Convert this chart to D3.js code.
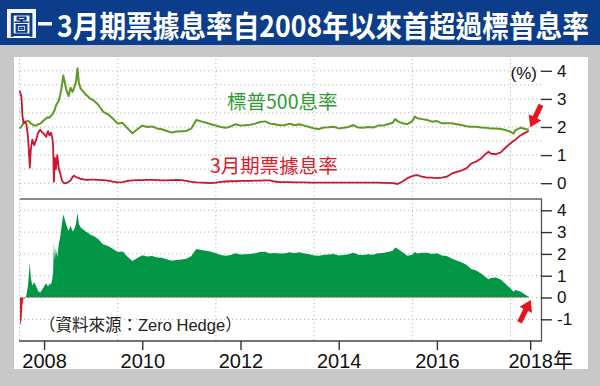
<!DOCTYPE html>
<html><head><meta charset="utf-8">
<script src="https://cdn.jsdelivr.net/npm/d3@7/dist/d3.min.js"></script>
<style>body{margin:0;background:#c8c8c8;overflow:hidden}</style>
</head><body>
<svg id="c" width="600" height="386"></svg>
<script>
// ---------- data (x in axis-years as drawn) ----------
const years = [
2007.50,2007.52,2007.54,2007.56,2007.58,2007.61,2007.64,2007.67,2007.69,2007.71,2007.73,2007.76,2007.80,2007.84,2007.88,2007.92,2007.96,
2008.00,2008.04,2008.08,2008.11,2008.14,2008.17,2008.185,2008.20,2008.22,2008.24,2008.27,2008.30,2008.33,2008.36,2008.39,2008.42,2008.45,2008.50,2008.54,2008.58,2008.61,2008.65,2008.68,2008.71,2008.75,2008.80,2008.85,2008.90,2008.95,
2009.0,2009.1,2009.2,2009.3,2009.4,2009.5,2009.6,2009.7,2009.8,2009.9,
2010.0,2010.1,2010.2,2010.3,2010.4,2010.5,2010.6,2010.7,2010.8,2010.9,
2011.0,2011.1,2011.2,2011.3,2011.4,2011.5,2011.6,2011.7,2011.8,2011.9,
2012.0,2012.1,2012.2,2012.3,2012.4,2012.5,2012.6,2012.7,2012.8,2012.9,
2013.0,2013.1,2013.2,2013.3,2013.4,2013.5,2013.6,2013.7,2013.8,2013.9,
2014.0,2014.1,2014.2,2014.3,2014.4,2014.5,2014.6,2014.7,2014.8,2014.9,
2015.0,2015.1,2015.15,2015.2,2015.3,2015.4,2015.5,2015.55,2015.6,2015.7,2015.8,2015.9,
2016.0,2016.1,2016.2,2016.3,2016.4,2016.5,2016.6,2016.7,2016.8,2016.9,
2017.0,2017.05,2017.1,2017.2,2017.3,2017.4,2017.5,2017.56,2017.6,2017.7,2017.8,2017.87];

// S&P 500 dividend yield (%)
const spYield = [
1.95,1.98,2.02,2.08,2.12,2.15,2.20,2.22,2.20,2.17,2.12,2.10,2.05,2.05,2.10,2.12,2.18,
2.25,2.30,2.35,2.33,2.40,2.45,2.50,2.55,2.62,2.75,2.85,2.95,3.15,3.43,3.83,3.60,3.35,3.10,3.40,3.25,3.38,3.60,4.09,3.55,3.35,3.26,3.15,3.08,3.00,
2.96,2.80,2.55,2.45,2.30,2.12,2.15,1.95,1.78,1.92,
2.05,2.00,2.02,1.95,1.92,1.86,1.80,1.84,1.85,1.86,
1.95,2.25,2.20,2.15,2.10,2.05,2.00,1.97,2.02,2.10,
2.05,2.06,2.08,2.12,2.18,2.20,2.12,2.10,2.06,2.06,
2.12,2.06,2.10,2.05,2.00,1.95,1.93,1.98,1.99,2.01,
1.95,1.97,2.00,2.07,1.98,1.97,2.00,1.98,2.05,2.05,
2.10,2.15,2.28,2.21,2.13,2.10,2.21,2.37,2.31,2.28,2.25,2.19,
2.21,2.13,2.13,2.13,2.10,2.07,2.03,2.01,2.01,1.98,
1.97,1.96,1.95,1.95,1.93,1.89,1.83,1.76,1.89,1.97,1.93,1.90];

// 3-month T-bill yield (%)
const billYield = [
3.30,3.20,3.05,2.40,2.15,2.20,2.10,1.70,1.20,0.55,1.20,1.55,1.35,1.55,1.80,1.90,1.82,
1.75,1.65,1.85,1.70,1.80,1.60,1.30,0.05,0.90,0.50,1.00,0.50,0.35,0.12,0.02,0.00,0.00,0.05,0.10,0.22,0.27,0.22,0.20,0.18,0.15,0.14,0.12,0.12,0.13,
0.13,0.12,0.11,0.09,0.06,0.03,0.04,0.08,0.10,0.11,
0.11,0.12,0.12,0.11,0.10,0.10,0.11,0.12,0.11,0.08,
0.05,0.03,0.02,0.01,0.00,0.02,0.05,0.06,0.07,0.07,
0.08,0.08,0.08,0.09,0.09,0.10,0.10,0.06,0.04,0.04,
0.04,0.03,0.03,0.03,0.02,0.02,0.02,0.02,0.02,0.02,
0.02,0.02,0.02,0.02,0.02,0.02,0.02,0.02,0.02,0.01,
0.01,0.00,-0.01,-0.03,0.06,0.18,0.25,0.28,0.29,0.23,0.20,0.20,
0.18,0.20,0.23,0.34,0.40,0.45,0.53,0.70,0.77,0.88,
1.05,1.12,1.05,1.03,1.10,1.27,1.42,1.50,1.55,1.70,1.80,1.86];

const xTickValues = [2008, 2010, 2012, 2014, 2016, 2017.9];
const xTickLabels = ["2008", "2010", "2012", "2014", "2016", "2018年"];
const gridYears = [2007.5, 2009.5, 2011.5, 2013.5, 2015.5, 2017.5];
const topTicks = [0, 1, 2, 3, 4];
const topGrid = [0, 0.5, 1, 1.5, 2, 2.5, 3, 3.5, 4];
const bottomTicks = [-1, 0, 1, 2, 3, 4];
const titleText = "3月期票據息率自2008年以來首超過標普息率";
const spLabel = "標普500息率";
const billLabel = "3月期票據息率";
const sourceText = "（資料來源：Zero Hedge）";

// ---------- drawing ----------
const CJK = "'Noto Sans CJK TC','Noto Sans CJK SC',sans-serif";
const LAT = "'Liberation Sans',Arial,'Noto Sans CJK TC',sans-serif";
const svg = d3.select("#c");
const rows = years.map((y, i) => ({ y, sp: spYield[i], bill: billYield[i], spread: spYield[i] - billYield[i] }));

// background / frame
svg.append("rect").attr("width", 600).attr("height", 386).attr("fill", "#c8c8c8");
svg.append("rect").attr("width", 600).attr("height", 45).attr("fill", "#0b3d8b");
svg.append("rect").attr("x", 14).attr("y", 57).attr("width", 574).attr("height", 312).attr("fill", "#fff");

// title
svg.append("rect").attr("x", 7).attr("y", 9).attr("width", 29).attr("height", 29).attr("fill", "#f4f6fa");
svg.append("text").attr("x", 21.5).attr("y", 33.5).attr("text-anchor", "middle")
  .attr("font-family", CJK).attr("font-weight", 700).attr("font-size", 25).attr("fill", "#0b3d8b").text("圖");
svg.append("rect").attr("x", 38).attr("y", 22).attr("width", 14).attr("height", 3.5).attr("fill", "#fff");
const titleG = svg.append("g");
const title = titleG.append("text").attr("x", 0).attr("y", 0).attr("font-family", CJK).attr("font-weight", 700)
  .attr("font-size", 30).attr("fill", "#fff").text(titleText);
const natW = title.node().getComputedTextLength();
titleG.attr("transform", `translate(57,36.5) scale(${532 / natW},1)`);

// scales
const x = d3.scaleLinear().domain([2007.51, 2018.12]).range([20, 541]);
const yTop = d3.scaleLinear().domain([0, 4]).range([183.2, 70.8]);
const yBot = d3.scaleLinear().domain([-1, 4]).range([319.3, 210.3]);
const plotTop = 59, divY = 199, plotBottom = 341, left = 20, right = 541;

// grid
const grid = svg.append("g").attr("stroke", "#b4b4b4").attr("stroke-width", 1).attr("stroke-dasharray", "1.2,2.8");
grid.selectAll(".v").data(gridYears).join("line")
  .attr("x1", d => x(d)).attr("x2", d => x(d)).attr("y1", plotTop).attr("y2", plotBottom);
grid.selectAll(".ht").data(topGrid).join("line")
  .attr("x1", left).attr("x2", right).attr("y1", d => yTop(d)).attr("y2", d => yTop(d));
grid.selectAll(".hb").data(bottomTicks).join("line")
  .attr("x1", left).attr("x2", right).attr("y1", d => yBot(d)).attr("y2", d => yBot(d));

// bottom area (spread)
const defs = svg.append("defs");
defs.append("clipPath").attr("id", "pos").append("rect")
  .attr("x", left).attr("y", divY).attr("width", right - left).attr("height", yBot(0) - divY);
defs.append("clipPath").attr("id", "neg").append("rect")
  .attr("x", left).attr("y", yBot(0)).attr("width", right - left).attr("height", plotBottom - yBot(0));
const area = d3.area().x(d => x(d.y)).y0(yBot(0)).y1(d => yBot(d.spread));
svg.append("path").datum(rows).attr("d", area).attr("fill", "#009645").attr("clip-path", "url(#pos)");
svg.append("path").datum(rows).attr("d", area).attr("fill", "#e8131b").attr("clip-path", "url(#neg)");

// top lines
const lineSp = d3.line().x(d => x(d.y)).y(d => yTop(d.sp));
const lineBill = d3.line().x(d => x(d.y)).y(d => yTop(d.bill));
svg.append("path").datum(rows).attr("d", lineSp).attr("fill", "none").attr("stroke", "#5c9a22")
  .attr("stroke-width", 2).attr("stroke-linejoin", "round");
svg.append("path").datum(rows).attr("d", lineBill).attr("fill", "none").attr("stroke", "#cc1431")
  .attr("stroke-width", 1.8).attr("stroke-linejoin", "round");

// frame lines
svg.append("line").attr("x1", left).attr("x2", right + 1).attr("y1", divY).attr("y2", divY)
  .attr("stroke", "#8a8a8a").attr("stroke-width", 2);
svg.append("line").attr("x1", right + 0.5).attr("x2", right + 0.5).attr("y1", divY).attr("y2", plotBottom)
  .attr("stroke", "#555").attr("stroke-width", 1.3);
svg.append("line").attr("x1", left - 1).attr("x2", right + 1).attr("y1", plotBottom).attr("y2", plotBottom)
  .attr("stroke", "#444").attr("stroke-width", 1.5);

// axes
function styleAxis(g, size) {
  g.select(".domain").remove();
  g.selectAll(".tick line").attr("stroke", "#333").attr("stroke-width", 1.4);
  g.selectAll(".tick text").attr("fill", "#111").attr("font-family", LAT).attr("font-size", size);
}
const axTop = svg.append("g").attr("transform", `translate(${right},0)`)
  .call(d3.axisRight(yTop).tickValues(topTicks).tickSize(11).tickPadding(5).tickFormat(d => String(d)));
styleAxis(axTop, 17);
const axBot = svg.append("g").attr("transform", `translate(${right},0)`)
  .call(d3.axisRight(yBot).tickValues(bottomTicks).tickSize(11).tickPadding(5).tickFormat(d => String(d)));
styleAxis(axBot, 17);
const axX = svg.append("g").attr("transform", `translate(0,${plotBottom})`)
  .call(d3.axisBottom(x).tickValues(xTickValues).tickSize(9).tickPadding(4).tickFormat((d, i) => xTickLabels[i]));
styleAxis(axX, 20);
// last label: keep year digits centred on tick, the 年 trailing
const lastText = axX.selectAll(".tick text").filter((d, i) => i === xTickValues.length - 1);
const probe = svg.append("text").attr("font-family", LAT).attr("font-size", 20).text(xTickLabels[0]);
const wDigits = probe.node().getComputedTextLength();
probe.remove();
lastText.attr("text-anchor", "start").attr("x", -wDigits / 2);

// unit
svg.append("text").attr("x", 537).attr("y", 79).attr("text-anchor", "end")
  .attr("font-family", LAT).attr("font-size", 17).attr("fill", "#111").text("(%)");

// series labels
svg.append("text").attr("x", 227).attr("y", 109).attr("font-family", CJK).attr("font-size", 19.5)
  .attr("fill", "#2f9a34").text(spLabel);
svg.append("text").attr("x", 210).attr("y", 173).attr("font-family", CJK).attr("font-size", 19.5)
  .attr("fill", "#d8202a").text(billLabel);
svg.append("text").attr("x", 39).attr("y", 331).attr("font-family", LAT).attr("font-size", 16.5)
  .attr("fill", "#222").text(sourceText);

// arrows
function arrow(tipX, tipY, dx, dy) {
  const len = Math.hypot(dx, dy), ux = dx / len, uy = dy / len, px = -uy, py = ux;
  const L = 25, hl = 11, hw = 7, sw = 2.6;
  const pts = [
    [tipX, tipY],
    [tipX - ux * hl + px * hw, tipY - uy * hl + py * hw],
    [tipX - ux * hl + px * sw, tipY - uy * hl + py * sw],
    [tipX - ux * L + px * sw, tipY - uy * L + py * sw],
    [tipX - ux * L - px * sw, tipY - uy * L - py * sw],
    [tipX - ux * hl - px * sw, tipY - uy * hl - py * sw],
    [tipX - ux * hl - px * hw, tipY - uy * hl - py * hw]
  ];
  svg.append("path").attr("d", "M" + pts.map(p => p.join(",")).join("L") + "Z").attr("fill", "#e8141c");
}
const last = rows[rows.length - 1];
arrow(x(last.y) + 1.5, yTop(last.sp) - 2.5, -11, 23);
arrow(x(last.y) + 2, yBot(0) + 2.5, 11, -22);
</script>
</body></html>
